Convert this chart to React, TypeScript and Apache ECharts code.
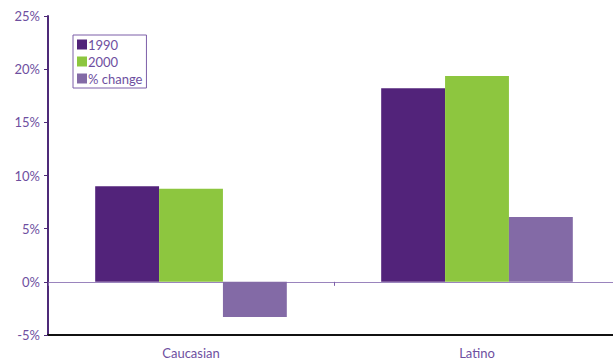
import React, { useEffect, useRef } from "react";
import * as echarts from "echarts";

const categories = ["Caucasian", "Latino"];
const values1990 = [9.0, 18.2];
const values2000 = [8.75, 19.35];
const valuesChange = [-3.3, 6.1];
const seriesNames = ["1990", "2000", "% change"];
const yTicks = { min: -5, max: 25, interval: 5 };

const textPurple = "#6e4f9f";
const font = "Lato";

export default function App() {
  const ref = useRef<HTMLDivElement>(null);

  useEffect(() => {
    if (!ref.current) return;
    document.body.style.margin = "0";
    const chart = echarts.init(ref.current, undefined, { renderer: "svg" });
    chart.setOption({
      animation: false,
      backgroundColor: "#ffffff",
      textStyle: { fontFamily: font },
      grid: { left: 48, top: 16, width: 572, height: 319, containLabel: false },
      legend: {
        orient: "vertical",
        left: 73,
        top: 35,
        data: seriesNames,
        icon: "rect",
        itemWidth: 10,
        itemHeight: 10,
        itemGap: 4,
        padding: [3, 4, 3, 4],
        borderColor: "#7d5fa8",
        borderWidth: 1,
        borderRadius: 0,
        textStyle: { fontSize: 13, color: textPurple, fontFamily: font, padding: [0, 0, 0, -4] },
      },
      xAxis: [
        {
          type: "category",
          data: categories,
          position: "bottom",
          axisLine: { onZero: false, lineStyle: { color: "#111111", width: 2 } },
          axisTick: { show: false },
          axisLabel: { color: textPurple, fontSize: 13, margin: 11, fontFamily: font },
        },
        {
          type: "category",
          data: categories,
          position: "top",
          axisLine: { onZero: true, lineStyle: { color: "#9a84bd", width: 1 } },
          axisTick: { show: true, inside: true, length: 4, lineStyle: { color: "#7d5fa8" } },
          axisLabel: { show: false },
        },
      ],
      yAxis: {
        type: "value",
        min: yTicks.min,
        max: yTicks.max,
        interval: yTicks.interval,
        axisLine: { show: true, lineStyle: { color: "#4e2a78", width: 2 } },
        axisTick: { show: true, length: 4, lineStyle: { color: "#4e2a78" } },
        splitLine: { show: false },
        axisLabel: {
          color: textPurple,
          fontSize: 13,
          margin: 8,
          fontFamily: font,
          formatter: "{value}%",
        },
      },
      series: [
        { name: seriesNames[0], type: "bar", data: values1990, itemStyle: { color: "#52237a" }, barGap: "0%", barCategoryGap: "33%" },
        { name: seriesNames[1], type: "bar", data: values2000, itemStyle: { color: "#8dc63f" }, barGap: "0%", barCategoryGap: "33%" },
        { name: seriesNames[2], type: "bar", data: valuesChange, itemStyle: { color: "#836aa6" }, barGap: "0%", barCategoryGap: "33%" },
      ],
    });
    return () => chart.dispose();
  }, []);

  // The plot area runs a little past the right edge, so the chart is drawn
  // wider than the visible frame and clipped.
  return (
    <div style={{ width: 613, height: 360, overflow: "hidden" }}>
      <div ref={ref} style={{ width: 630, height: 360 }} />
    </div>
  );
}
